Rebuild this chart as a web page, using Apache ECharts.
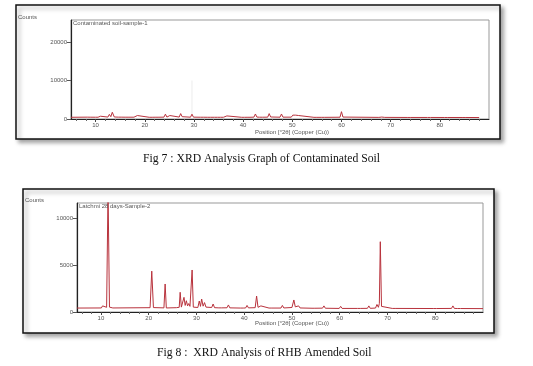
<!DOCTYPE html>
<html>
<head>
<meta charset="utf-8">
<script src="https://cdn.jsdelivr.net/npm/echarts@6/dist/echarts.min.js"></script>
<style>
  html, body { margin: 0; padding: 0; background: #fff; }
  #chart { width: 533px; height: 366px; }
</style>
</head>
<body>
<div id="chart"></div>
<script>
// ---- Data (2θ position, counts) ----
const sample1Title = 'Contaminated soil-sample-1';
const sample2Title = 'Latchmi 28 days-Sample-2';
const caption1 = 'Fig 7 : XRD Analysis Graph of Contaminated Soil';
const caption2 = 'Fig 8 :  XRD Analysis of RHB Amended Soil';
const xAxisTitle = 'Position [°2θ] (Copper (Cu))';
const yAxisTitle = 'Counts';

const xMajorTicks = [10, 20, 30, 40, 50, 60, 70, 80];
const xMinorTicks = [6, 8, 12, 14, 16, 18, 22, 24, 26, 28, 32, 34, 36, 38, 42, 44, 46, 48, 52, 54, 56, 58, 62, 64, 66, 68, 72, 74, 76, 78, 82, 84, 86, 88];
const yTicks1 = [0, 10000, 20000];
const yTicks2 = [0, 5000, 10000];

const sample1 = [
  [5, 450], [8.3, 480], [8.6, 800], [8.9, 470], [10.0, 460], [10.2, 700], [10.5, 460], [10.8, 470], [11.0, 720], [11.3, 470],
  [12.5, 500], [12.8, 1200], [13.1, 600], [13.4, 1750], [13.8, 520], [14.6, 480], [14.9, 750], [15.2, 480], [16.0, 470], [16.3, 700],
  [16.6, 470], [17.2, 470], [17.5, 750], [17.8, 470], [18.2, 480], [18.5, 900], [18.8, 480], [20.9, 450], [21.2, 750], [21.5, 450],
  [22.1, 460], [22.4, 950], [22.7, 460], [23.9, 480], [24.2, 1250], [24.5, 500], [24.8, 520], [25.1, 900], [25.4, 480], [27.0, 500],
  [27.3, 1400], [27.6, 600], [27.9, 480], [29.3, 470], [29.6, 1250], [29.9, 480], [31.3, 460], [31.6, 900], [31.9, 460], [32.8, 450],
  [33.1, 700], [33.4, 450], [34.2, 450], [34.5, 680], [34.8, 450], [35.4, 450], [35.7, 700], [36.0, 450], [36.4, 460], [36.7, 800],
  [37.0, 460], [39.7, 440], [40.0, 750], [40.3, 440], [40.8, 450], [41.1, 850], [41.4, 450], [42.2, 480], [42.5, 1300], [42.8, 500],
  [43.3, 470], [43.6, 900], [43.9, 460], [45.0, 480], [45.3, 1400], [45.6, 520], [47.5, 470], [47.8, 1300], [48.1, 480], [49.8, 480],
  [50.1, 1000], [50.4, 700], [50.7, 1000], [51.0, 600], [51.3, 900], [51.6, 460], [54.4, 430], [54.7, 650], [55.0, 430], [56.0, 430],
  [56.3, 700], [56.6, 430], [59.7, 460], [60.0, 1900], [60.3, 500], [60.6, 460], [67.6, 420], [67.9, 700], [68.2, 500], [68.5, 680],
  [68.8, 420], [73.5, 400], [73.8, 580], [74.1, 400], [77.5, 400], [77.8, 600], [78.1, 400], [80.9, 390], [81.2, 550], [81.5, 390],
  [84.7, 390], [85.0, 620], [85.3, 390], [88, 380]
];
const sample1Marker = [[29.6, 1300], [29.6, 10000]];

const sample2 = [
  [5, 420], [10.1, 430], [10.35, 650], [10.6, 440], [11.2, 500], [11.5, 13000], [11.8, 520], [12.5, 430], [20.3, 460], [20.65, 4350],
  [21.0, 470], [23.2, 440], [23.45, 2980], [23.7, 430], [25.8, 460], [26.0, 600], [26.2, 480], [26.4, 500], [26.6, 2100], [26.85, 520],
  [27.15, 600], [27.4, 1560], [27.65, 700], [27.9, 1200], [28.15, 650], [28.4, 900], [28.65, 600], [28.9, 620], [29.1, 4470], [29.35, 520],
  [30.3, 480], [30.6, 1170], [30.85, 600], [31.1, 1380], [31.4, 620], [31.7, 1000], [32.0, 520], [33.2, 480], [33.5, 850], [33.8, 460],
  [34.7, 440], [35.0, 560], [35.3, 440], [36.4, 450], [36.7, 750], [37.0, 440], [39.2, 420], [39.5, 600], [39.8, 420], [40.3, 430],
  [40.6, 700], [40.9, 440], [42.3, 460], [42.6, 1700], [42.9, 500], [43.2, 460], [43.5, 650], [43.8, 440], [45.2, 420], [45.5, 550],
  [45.8, 420], [47.7, 420], [48.0, 700], [48.3, 430], [50.0, 480], [50.4, 1280], [50.7, 550], [51.1, 460], [51.4, 650], [51.7, 430],
  [54.2, 400], [54.5, 500], [54.8, 400], [56.4, 410], [56.7, 650], [57.0, 400], [59.9, 380], [60.2, 600], [60.5, 380], [63.7, 380],
  [64.0, 500], [64.3, 380], [65.8, 390], [66.1, 650], [66.4, 390], [67.5, 420], [67.8, 800], [68.1, 500], [68.3, 900], [68.5, 7480],
  [68.75, 600], [69.1, 400], [71.0, 380], [71.3, 550], [71.6, 380], [79.7, 370], [80.0, 550], [80.3, 370], [83.4, 380], [83.7, 650],
  [84.0, 380], [84.7, 370], [85.0, 500], [85.3, 370], [90, 360]
];

// ---- Chart ----
const chart = echarts.init(document.getElementById('chart'), null, { renderer: 'canvas' });
const lineColor = '#b8323c';
const labelColor = '#555';
const smallFont = 'Arial, "Liberation Sans", sans-serif';
const plain = v => String(v);

function majorX(gridIndex) {
  return {
    type: 'value', gridIndex, min: 5, max: 90, position: 'bottom',
    axisLine: { show: true, lineStyle: { color: '#222', width: 1 } },
    axisTick: { show: true, length: 3, customValues: xMajorTicks, lineStyle: { color: '#444' } },
    axisLabel: { show: true, customValues: xMajorTicks, fontSize: 6, color: labelColor, margin: 3, fontFamily: smallFont, formatter: plain },
    splitLine: { show: false }
  };
}
function minorX(gridIndex) {
  return {
    type: 'value', gridIndex, min: 5, max: 90, position: 'bottom', offset: 0,
    axisLine: { show: false },
    axisTick: { show: true, length: 2, customValues: xMinorTicks, lineStyle: { color: '#666' } },
    axisLabel: { show: false },
    splitLine: { show: false }
  };
}
function yAx(gridIndex, max, ticks) {
  return {
    type: 'value', gridIndex, min: 0, max, position: 'left',
    axisLine: { show: true, lineStyle: { color: '#222', width: 1.2 } },
    axisTick: { show: true, length: 4, customValues: ticks, lineStyle: { color: '#555' } },
    axisLabel: { show: true, customValues: ticks, fontSize: 6, color: labelColor, margin: 4, fontFamily: smallFont, formatter: plain },
    splitLine: { show: false }
  };
}

const option = {
  animation: false,
  backgroundColor: '#fff',
  grid: [
    { left: 71, top: 20, width: 418, height: 99, show: true, borderColor: '#999', borderWidth: 1, backgroundColor: 'rgba(0,0,0,0)' },
    { left: 77, top: 203, width: 406, height: 109, show: true, borderColor: '#999', borderWidth: 1, backgroundColor: 'rgba(0,0,0,0)' }
  ],
  xAxis: [majorX(0), minorX(0), majorX(1), minorX(1)],
  yAxis: [yAx(0, 25700, yTicks1), yAx(1, 11600, yTicks2)],
  series: [
    { type: 'line', xAxisIndex: 0, yAxisIndex: 0, data: sample1, showSymbol: false, lineStyle: { color: lineColor, width: 1 }, clip: true, z: 3 },
    { type: 'line', xAxisIndex: 0, yAxisIndex: 0, data: sample1Marker, showSymbol: false, lineStyle: { color: '#ececec', width: 1 }, z: 2 },
    { type: 'line', xAxisIndex: 2, yAxisIndex: 1, data: sample2, showSymbol: false, lineStyle: { color: lineColor, width: 1 }, clip: true, z: 3 }
  ],
  graphic: [
    { type: 'rect', z: -10, shape: { x: 16, y: 5, width: 484, height: 134 },
      style: { fill: '#fff', stroke: '#111', lineWidth: 1.5, shadowBlur: 4, shadowOffsetX: 3, shadowOffsetY: 3, shadowColor: 'rgba(0,0,0,0.35)' } },
    { type: 'rect', z: -10, shape: { x: 23, y: 189, width: 471, height: 144 },
      style: { fill: '#fff', stroke: '#111', lineWidth: 1.5, shadowBlur: 4, shadowOffsetX: 3, shadowOffsetY: 3, shadowColor: 'rgba(0,0,0,0.35)' } },
    { type: 'text', z: 10, style: { text: yAxisTitle, x: 18, y: 17, font: '6px ' + smallFont, fill: labelColor, align: 'left', verticalAlign: 'middle' } },
    { type: 'text', z: 10, style: { text: yAxisTitle, x: 25, y: 200, font: '6px ' + smallFont, fill: labelColor, align: 'left', verticalAlign: 'middle' } },
    { type: 'text', z: 10, style: { text: sample1Title, x: 73, y: 23, font: '6px ' + smallFont, fill: labelColor, align: 'left', verticalAlign: 'middle' } },
    { type: 'text', z: 10, style: { text: sample2Title, x: 79, y: 206, font: '6px ' + smallFont, fill: labelColor, align: 'left', verticalAlign: 'middle' } },
    { type: 'text', z: 10, style: { text: xAxisTitle, x: 292, y: 132, font: '6px ' + smallFont, fill: labelColor, align: 'center', verticalAlign: 'middle' } },
    { type: 'text', z: 10, style: { text: xAxisTitle, x: 292, y: 323, font: '6px ' + smallFont, fill: labelColor, align: 'center', verticalAlign: 'middle' } },
    { type: 'text', z: 10, style: { text: caption1, x: 143, y: 159, font: '11.7px "Liberation Serif", "Times New Roman", serif', fill: '#111', align: 'left', verticalAlign: 'middle' } },
    { type: 'text', z: 10, style: { text: caption2, x: 157, y: 353, font: '11.7px "Liberation Serif", "Times New Roman", serif', fill: '#111', align: 'left', verticalAlign: 'middle' } }
  ]
};
chart.setOption(option);
</script>
</body>
</html>
